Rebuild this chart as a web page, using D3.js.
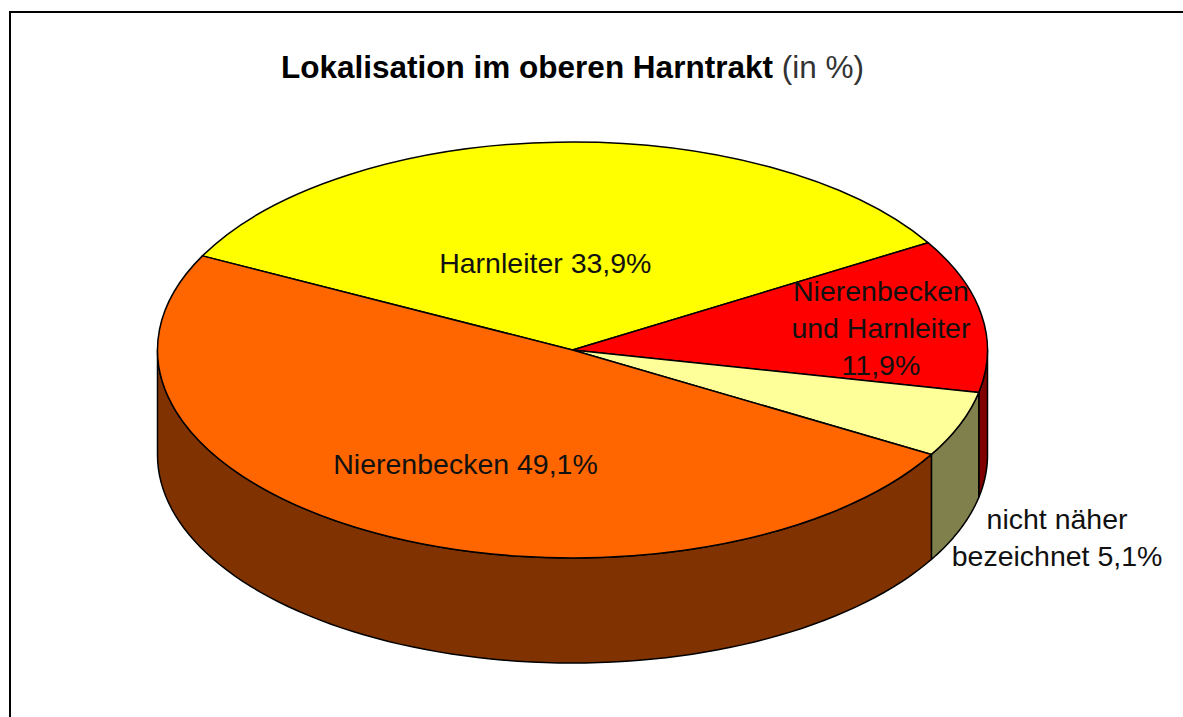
<!DOCTYPE html>
<html>
<head>
<meta charset="utf-8">
<script src="https://cdn.jsdelivr.net/npm/d3@7"></script>
<style>
  body { margin: 0; background: #fff; }
  text { font-family: "Liberation Sans", Arial, sans-serif; }
</style>
</head>
<body>
<div id="chart"></div>
<script>
// data
var categories = ["Harnleiter", "Nierenbecken und Harnleiter", "nicht näher bezeichnet", "Nierenbecken"];
var values = [33.9, 11.9, 5.1, 49.1];
var labelLines = [
  ["Harnleiter 33,9%"],
  ["Nierenbecken", "und Harnleiter", "11,9%"],
  ["nicht näher", "bezeichnet 5,1%"],
  ["Nierenbecken 49,1%"]
];
var topColors = ["#ffff00", "#ff0000", "#ffff99", "#ff6600"];
var sideColors = ["#808000", "#800000", "#80804c", "#803300"];

//set up chart
var svgWidth = 1183;
var svgHeight = 717;

var cx = 572.5, cy = 350;   // centre of the top face
var rx = 415, ry = 208;     // ellipse radii
var depth = 105;            // thickness of the cake

var svg = d3.select("#chart")
  .append("svg")
  .attr("width", svgWidth)
  .attr("height", svgHeight);

// frame
svg.append("rect")
  .attr("x", 10).attr("y", 12)
  .attr("width", 1200).attr("height", 720)
  .attr("fill", "none")
  .attr("stroke", "#000")
  .attr("stroke-width", 2);

// title
var title = svg.append("text")
  .attr("x", cx).attr("y", 78)
  .attr("text-anchor", "middle")
  .style("font-size", "31.5px");
title.append("tspan").attr("font-weight", "bold").attr("fill", "#000").text("Lokalisation im oberen Harntrakt");
title.append("tspan").attr("fill", "#333").text(" (in %)");

var color = d3.scaleOrdinal().domain(categories).range(topColors);
var sideColor = d3.scaleOrdinal().domain(categories).range(sideColors);

var start = 296.9 * Math.PI / 180;
var pie = d3.pie()
  .sort(null)
  .startAngle(start)
  .endAngle(start + 2 * Math.PI)
  .value(d => d.value);

var data = categories.map((c, i) => ({ cat: c, value: values[i], lines: labelLines[i] }));
var arcs = pie(data);

// point on ellipse for d3 angle a (clockwise from 12 o'clock)
function pt(a, f, dy) {
  return [cx + rx * f * Math.sin(a), cy - ry * f * Math.cos(a) + (dy || 0)];
}

// sides: only the front half (a between pi/2 and 3pi/2) is visible
var sides = [];
arcs.forEach(function(d) {
  for (var k = -1; k <= 1; k++) {
    var a0 = Math.max(d.startAngle + k * 2 * Math.PI, Math.PI / 2);
    var a1 = Math.min(d.endAngle + k * 2 * Math.PI, 3 * Math.PI / 2);
    if (a1 > a0) sides.push({ cat: d.data.cat, a0: a0, a1: a1 });
  }
});

var line = d3.line();
svg.append("g").selectAll("path")
  .data(sides)
  .enter()
  .append("path")
  .attr("d", function(s) {
    var n = 80, top = [], bot = [];
    for (var i = 0; i <= n; i++) {
      var a = s.a0 + (s.a1 - s.a0) * i / n;
      top.push(pt(a, 1, 0));
      bot.push(pt(a, 1, depth));
    }
    return line(top.concat(bot.reverse())) + "Z";
  })
  .attr("fill", s => sideColor(s.cat))
  .attr("stroke", "#000")
  .attr("stroke-width", 1.5)
  .attr("stroke-linejoin", "round");

// top faces: circle arcs squashed to an ellipse
var arc = d3.arc().innerRadius(0).outerRadius(rx);
svg.append("g")
  .attr("transform", `translate(${cx}, ${cy}) scale(1, ${ry / rx})`)
  .selectAll("path")
  .data(arcs)
  .enter()
  .append("path")
  .attr("d", arc)
  .attr("fill", d => color(d.data.cat))
  .attr("stroke", "#000")
  .attr("stroke-width", 1.5)
  .attr("stroke-linejoin", "round")
  .attr("vector-effect", "non-scaling-stroke");

// labels: radius fraction along the mid angle plus a small nudge
var labelPlace = [
  { f: 0.41, dx: -21, dy: -2 },
  { f: 0.70, dx: 22, dy: 2 },
  { f: 1.0, dx: 97, dy: 113 },
  { f: 0.55, dx: 2, dy: 13 }
];
var lineHeight = 37;
var labels = svg.append("g").selectAll("text")
  .data(arcs)
  .enter()
  .append("text")
  .attr("text-anchor", "middle")
  .attr("fill", "#111")
  .style("font-size", "28.5px")
  .attr("transform", function(d, i) {
    var mid = (d.startAngle + d.endAngle) / 2;
    var p = pt(mid, labelPlace[i].f, 0);
    return `translate(${p[0] + labelPlace[i].dx}, ${p[1] + labelPlace[i].dy})`;
  });

labels.each(function(d) {
  var n = d.data.lines.length;
  d3.select(this).selectAll("tspan")
    .data(d.data.lines)
    .enter()
    .append("tspan")
    .attr("x", 0)
    .attr("y", (l, j) => (j - (n - 1) / 2) * lineHeight)
    .attr("dy", "0.36em")
    .text(l => l);
});
</script>
</body>
</html>
